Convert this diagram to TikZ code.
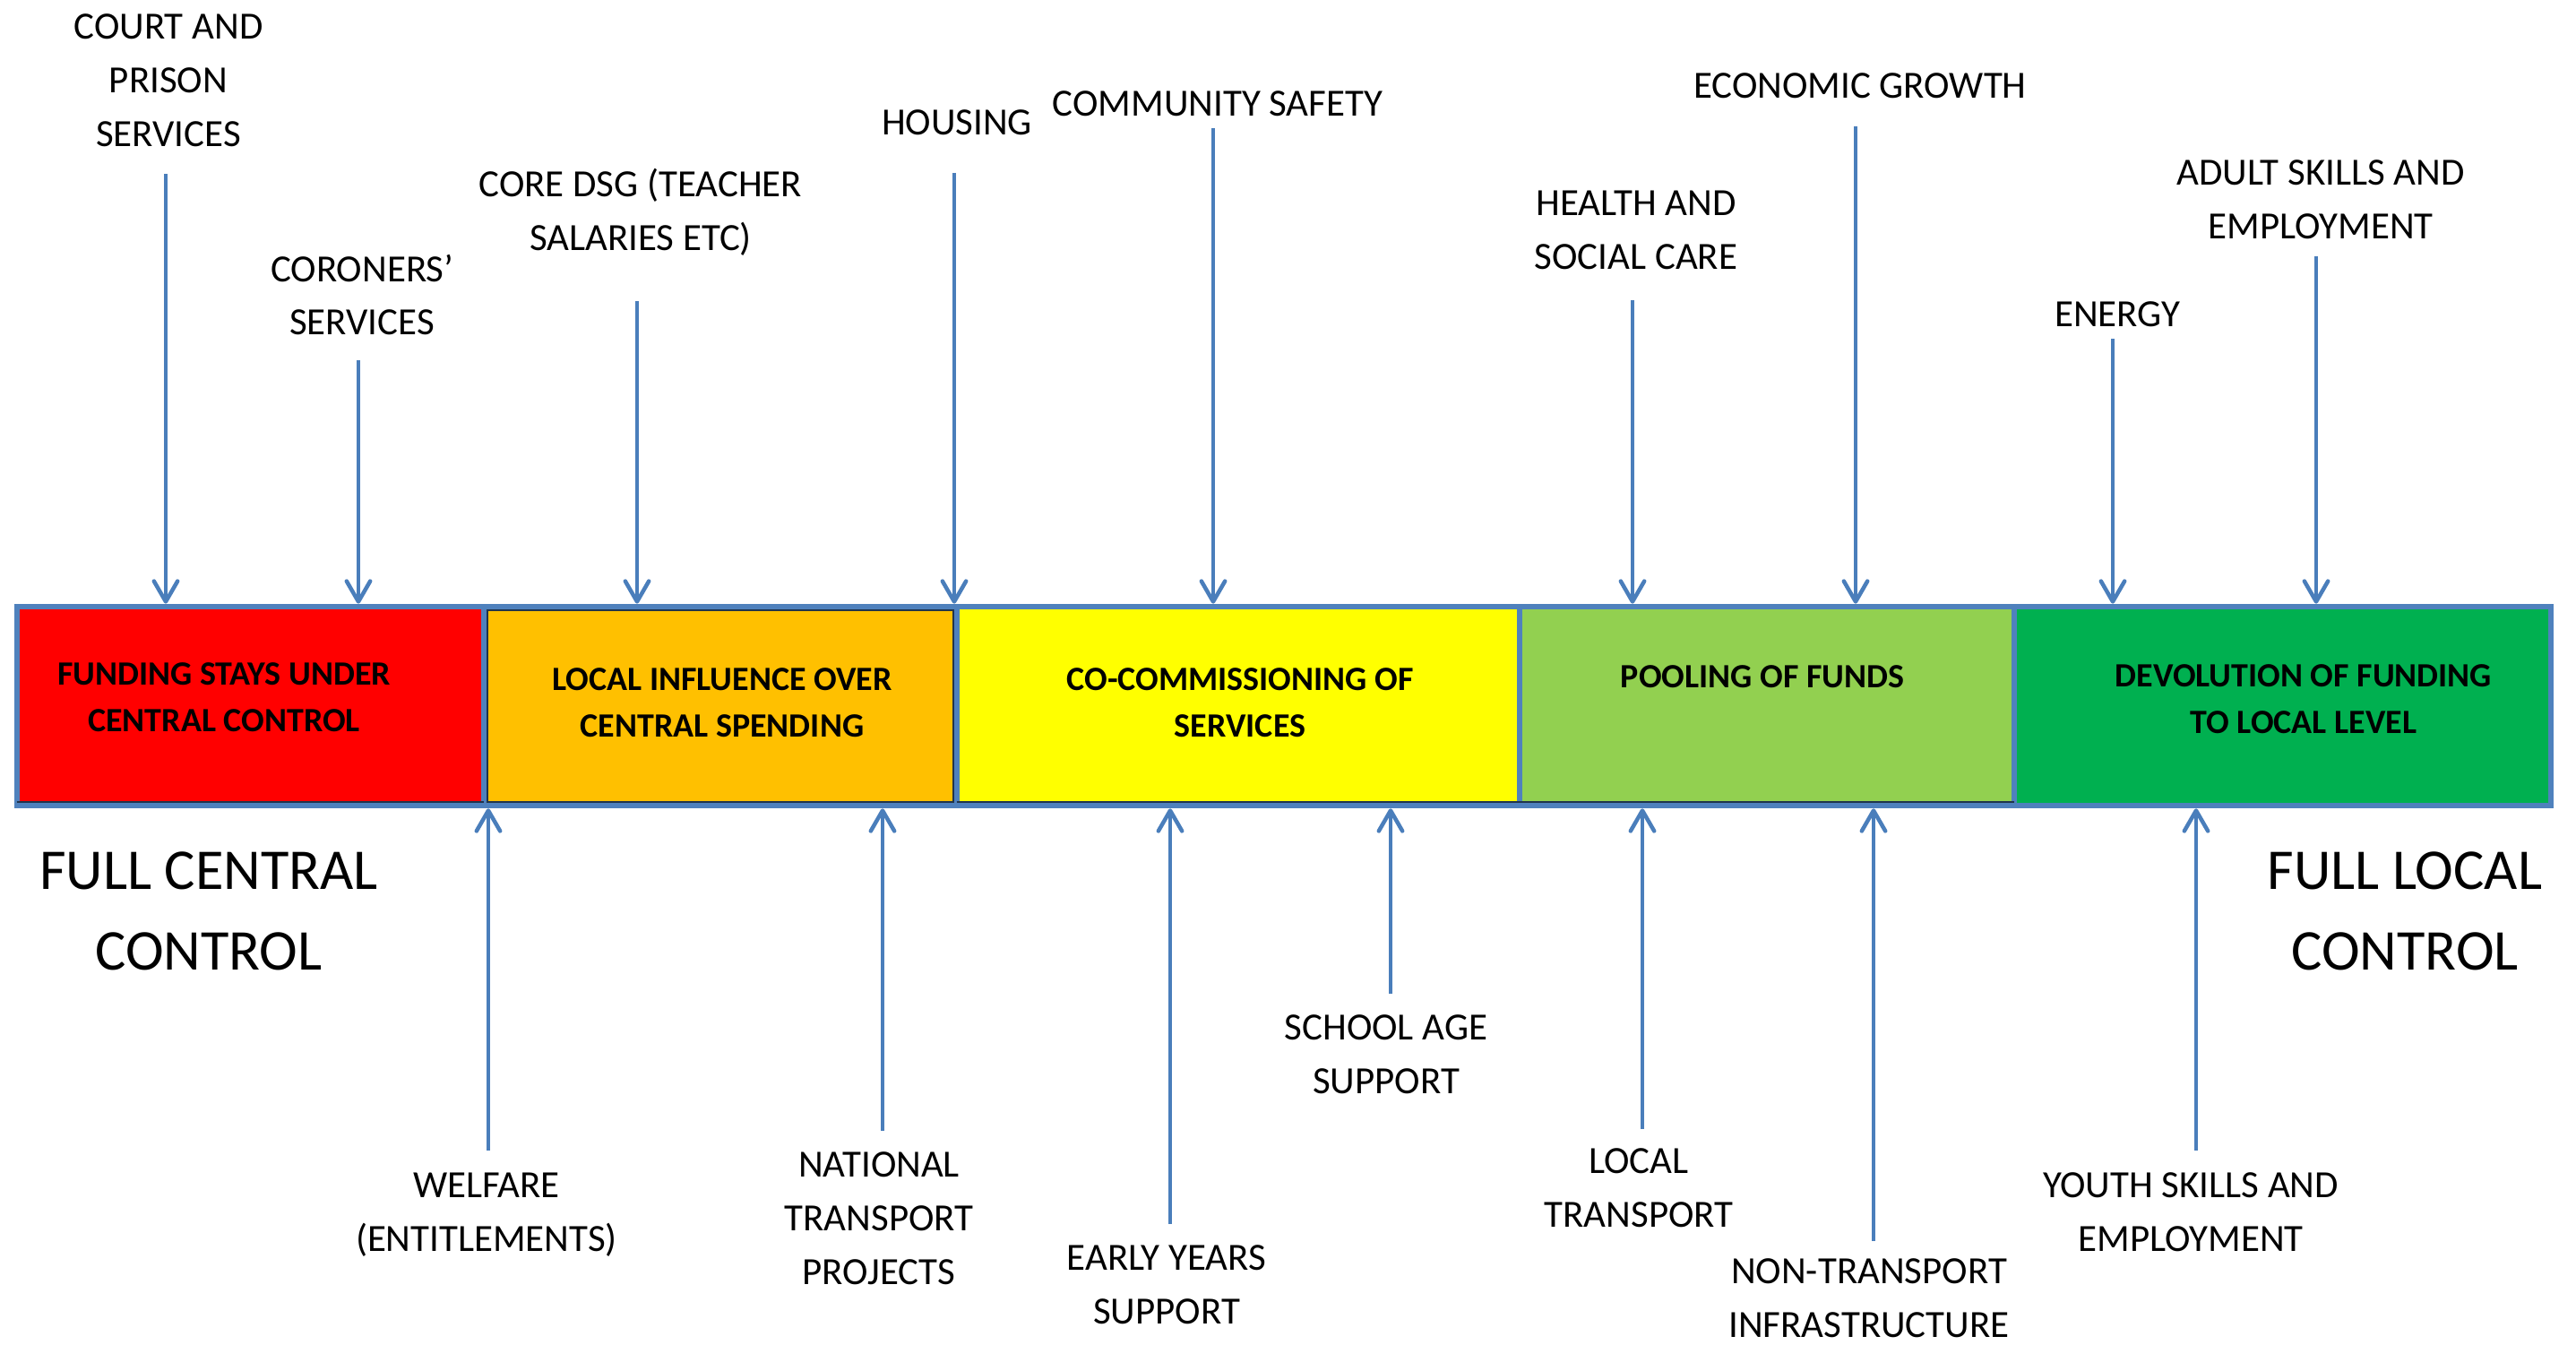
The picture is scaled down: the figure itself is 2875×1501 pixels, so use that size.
\documentclass[tikz,border=0pt]{standalone}
\usepackage{fontspec}
\setmainfont{Carlito}
\usetikzlibrary{arrows.meta}
\definecolor{barblue}{HTML}{4F81BD}
\definecolor{arrowblue}{HTML}{4A7EBB}
\definecolor{stagered}{HTML}{FF0000}
\definecolor{stageorange}{HTML}{FFC000}
\definecolor{stageyellow}{HTML}{FFFF00}
\definecolor{stagelime}{HTML}{92D050}
\definecolor{stagegreen}{HTML}{00B050}
\tikzset{
lab/.style={align=center,inner sep=0pt,font=\fontsize{12.2}{17}\selectfont},
big/.style={align=center,inner sep=0pt,font=\fontsize{18.3}{25.6}\selectfont},
stage/.style={rectangle,draw=barblue,line width=0.065cm,minimum height=2.22cm,inner sep=0pt},
stagetext/.style={align=center,inner sep=0pt,font=\fontsize{10.8}{14.8}\selectfont\bfseries},
flow/.style={draw=arrowblue,line width=0.045cm,-{Straight Barb[length=6.5pt,width=7.5pt,round]}},
rim/.style={draw=black!60!barblue,line width=0.02cm}
}
\begin{document}
\begin{tikzpicture}[x=0.01cm,y=-0.01cm]
\useasboundingbox (0,0) rectangle (2875,1501);
\node at (279.5,788)[stage,fill=stagered,minimum width=5.21cm](red){};
\node at (804,788)[stage,fill=stageorange,minimum width=5.28cm](orange){};
\node at (1382,788)[stage,fill=stageyellow,minimum width=6.28cm](yellow){};
\node at (1972,788)[stage,fill=stagelime,minimum width=5.52cm](lime){};
\node at (2547.5,788)[stage,fill=stagegreen,minimum width=5.99cm](green){};
\draw[rim] ([xshift=0.03cm,yshift=0.07cm]red.south west) -- ([xshift=-0.03cm,yshift=0.07cm]red.south east);
\draw[rim] ([xshift=0.07cm,yshift=0.07cm]orange.south west) rectangle ([xshift=-0.07cm,yshift=-0.07cm]orange.north east);
\draw[rim] ([xshift=0.03cm,yshift=0.07cm]yellow.south west) -- ([xshift=-0.03cm,yshift=0.07cm]yellow.south east);
\draw[rim] ([xshift=0.03cm,yshift=0.07cm]lime.south west) -- ([xshift=-0.03cm,yshift=0.07cm]lime.south east);
\node at (250,778)[stagetext](redtxt){FUNDING STAYS UNDER\\CENTRAL CONTROL};
\node at (806,784)[stagetext](orangetxt){LOCAL INFLUENCE OVER\\CENTRAL SPENDING};
\node at (1384,784)[stagetext](yellowtxt){CO-COMMISSIONING OF\\SERVICES};
\node at (1967,755)[stagetext](limetxt){POOLING OF FUNDS};
\node at (2571,780)[stagetext](greentxt){DEVOLUTION OF FUNDING\\TO LOCAL LEVEL};
\node at (233,1017)[big](central){FULL CENTRAL\\CONTROL};
\node at (2684,1017)[big](localctl){FULL LOCAL\\CONTROL};
\node at (188,90)[lab](court){COURT AND\\PRISON\\SERVICES};
\node at (404,329)[lab](coroner){CORONERS’\\SERVICES};
\node at (715,237)[lab](dsg){CORE DSG (TEACHER\\SALARIES ETC)};
\node at (1068,137)[lab](housing){HOUSING};
\node at (1359,116)[lab](safety){COMMUNITY SAFETY};
\node at (1826,257)[lab](health){HEALTH AND\\SOCIAL CARE};
\node at (2076,96)[lab](growth){ECONOMIC GROWTH};
\node at (2363,351)[lab](energy){ENERGY};
\node at (2590,223)[lab](adult){ADULT SKILLS AND\\EMPLOYMENT};
\node at (543,1356)[lab](welfare){WELFARE\\(ENTITLEMENTS)};
\node at (981,1360)[lab](national){NATIONAL\\TRANSPORT\\PROJECTS};
\node at (1302,1434)[lab](early){EARLY YEARS\\SUPPORT};
\node at (1547,1177)[lab](school){SCHOOL AGE\\SUPPORT};
\node at (1829,1326)[lab](local){LOCAL\\TRANSPORT};
\node at (2086,1449)[lab](nontrans){NON-TRANSPORT\\INFRASTRUCTURE};
\node at (2445,1353)[lab](youth){YOUTH SKILLS AND\\EMPLOYMENT};
\coordinate (court-t) at (185,194);
\coordinate (coroner-t) at (400,402);
\coordinate (dsg-t) at (711,336);
\coordinate (housing-t) at (1065,193);
\coordinate (safety-t) at (1354,143);
\coordinate (health-t) at (1822,335);
\coordinate (growth-t) at (2071,141);
\coordinate (energy-t) at (2358,378);
\coordinate (adult-t) at (2585,286);
\coordinate (welfare-t) at (545,1284);
\coordinate (national-t) at (985,1262);
\coordinate (early-t) at (1306,1366);
\coordinate (school-t) at (1552,1109);
\coordinate (local-t) at (1833,1260);
\coordinate (nontrans-t) at (2091,1385);
\coordinate (youth-t) at (2451,1284);
\draw[flow] (court-t) -- (court-t |- red.north);
\draw[flow] (coroner-t) -- (coroner-t |- red.north);
\draw[flow] (dsg-t) -- (dsg-t |- orange.north);
\draw[flow] (housing-t) -- (housing-t |- orange.north);
\draw[flow] (safety-t) -- (safety-t |- yellow.north);
\draw[flow] (health-t) -- (health-t |- lime.north);
\draw[flow] (growth-t) -- (growth-t |- lime.north);
\draw[flow] (energy-t) -- (energy-t |- green.north);
\draw[flow] (adult-t) -- (adult-t |- green.north);
\draw[flow] (welfare-t) -- (welfare-t |- orange.south);
\draw[flow] (national-t) -- (national-t |- orange.south);
\draw[flow] (early-t) -- (early-t |- yellow.south);
\draw[flow] (school-t) -- (school-t |- yellow.south);
\draw[flow] (local-t) -- (local-t |- lime.south);
\draw[flow] (nontrans-t) -- (nontrans-t |- lime.south);
\draw[flow] (youth-t) -- (youth-t |- green.south);
\end{tikzpicture}
\end{document}
